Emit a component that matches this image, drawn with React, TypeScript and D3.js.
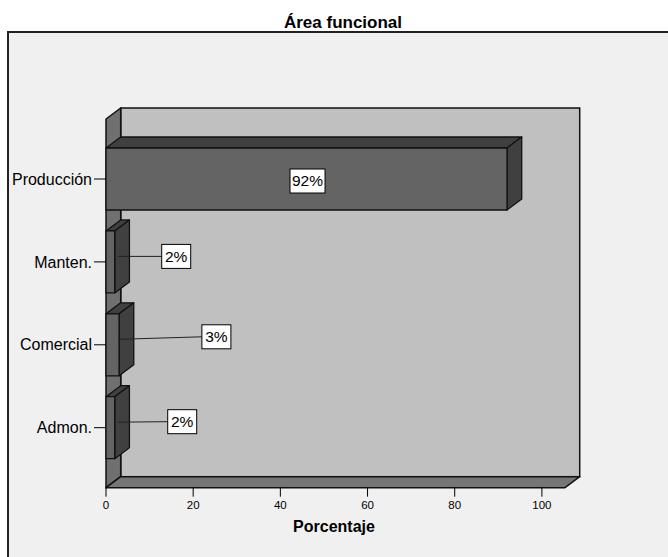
import React from "react";
import * as d3 from "d3";

// Share of staff by functional area (percent)
const categories = ["Producción", "Manten.", "Comercial", "Admon."];
const percentages = [92, 2, 3, 2];
const xTicks = [0, 20, 40, 60, 80, 100];
const xAxisMax = 105.3;

const WIDTH = 668;
const HEIGHT = 557;

// 3D depth offset of the chart box and bars
const DX = 14.7;
const DY = 11;

// Label boxes for thin bars are pushed to the right of the bar
const labelShift = [0, 44, 82, 50];
const labelTilt = [0, 0, -2.5, -0.5];

const FONT = "'Liberation Sans', Arial, sans-serif";

export default function App() {
  const x = d3.scaleLinear().domain([0, xAxisMax]).range([106, 565]);
  const y = d3
    .scaleBand<string>()
    .domain(categories)
    .range([119, 487.7])
    .paddingInner(0.252)
    .paddingOuter(0.35);

  const x0 = x(0);
  const xEnd = x(xAxisMax);
  const yTop = y.range()[0];
  const yBot = y.range()[1];

  const pts = (p: [number, number][]) => p.map((d) => d.join(",")).join(" ");

  const stroke = "#111";

  return (
    <svg
      width={WIDTH}
      height={HEIGHT}
      style={{ position: "absolute", left: 0, top: 0, background: "#fff" }}
      fontFamily={FONT}
    >
      {/* outer frame */}
      <rect x={8} y={32} width={WIDTH + 20} height={HEIGHT} fill="#f0f0f0" stroke="#222" strokeWidth={2} />
      <text x={343} y={28} textAnchor="middle" fontSize={17} fontWeight="bold" fill="#000">
        Área funcional
      </text>

      {/* back wall */}
      <rect
        x={x0 + DX}
        y={yTop - DY}
        width={xEnd - x0}
        height={yBot - yTop}
        fill="#c0c0c0"
        stroke={stroke}
        strokeWidth={1.5}
      />
      {/* left wall */}
      <polygon
        points={pts([
          [x0, yTop],
          [x0 + DX, yTop - DY],
          [x0 + DX, yBot - DY],
          [x0, yBot],
        ])}
        fill="#707070"
        stroke={stroke}
        strokeWidth={1.5}
        strokeLinejoin="round"
      />
      {/* floor */}
      <polygon
        points={pts([
          [x0, yBot],
          [x0 + DX, yBot - DY],
          [xEnd + DX, yBot - DY],
          [xEnd, yBot],
        ])}
        fill="#767676"
        stroke={stroke}
        strokeWidth={1.5}
        strokeLinejoin="round"
      />

      {/* bars */}
      {categories.map((c, i) => {
        const v = percentages[i];
        const y0 = y(c)!;
        const h = y.bandwidth();
        const x1 = x(v);
        return (
          <g key={c} stroke={stroke} strokeWidth={1.3} strokeLinejoin="round">
            <polygon
              points={pts([
                [x0, y0],
                [x0 + DX, y0 - DY],
                [x1 + DX, y0 - DY],
                [x1, y0],
              ])}
              fill="#404040"
            />
            <polygon
              points={pts([
                [x1, y0],
                [x1 + DX, y0 - DY],
                [x1 + DX, y0 + h - DY],
                [x1, y0 + h],
              ])}
              fill="#404040"
            />
            <rect x={x0} y={y0} width={x1 - x0} height={h} fill="#646464" />
          </g>
        );
      })}

      {/* y axis ticks and labels */}
      {categories.map((c) => {
        const cy = y(c)! + y.bandwidth() / 2;
        return (
          <g key={c}>
            <line x1={94} x2={x0} y1={cy} y2={cy} stroke="#000" strokeWidth={1} />
            <text x={92} y={cy} dy="0.35em" textAnchor="end" fontSize={16} fill="#000">
              {c}
            </text>
          </g>
        );
      })}

      {/* x axis ticks */}
      {xTicks.map((t) => (
        <g key={t}>
          <line x1={x(t)} x2={x(t)} y1={yBot} y2={yBot + 9} stroke="#000" strokeWidth={1} />
          <text x={x(t)} y={509} textAnchor="middle" fontSize={11.5} fill="#000">
            {t}
          </text>
        </g>
      ))}
      <text x={334} y={531.5} textAnchor="middle" fontSize={16} fontWeight="bold" fill="#000">
        Porcentaje
      </text>

      {/* value labels */}
      {categories.map((c, i) => {
        const v = percentages[i];
        const cy = y(c)! + y.bandwidth() / 2;
        const label = `${v}%`;
        const bw = 29;
        const bh = 24;
        if (labelShift[i] === 0) {
          const cx = (x0 + x(v)) / 2 + 1;
          return (
            <g key={c}>
              <rect x={cx - 17.5} y={cy - 10} width={35} height={bh} fill="#fff" stroke="#000" strokeWidth={1} />
              <text x={cx} y={cy + 2} dy="0.35em" textAnchor="middle" fontSize={15.5} fill="#000">
                {label}
              </text>
            </g>
          );
        }
        const ax = (x0 + x(v)) / 2 + DX / 2;
        const ay = cy - DY / 2;
        const bx = ax + labelShift[i];
        const by = ay + labelTilt[i];
        return (
          <g key={c}>
            <line x1={ax} y1={ay} x2={bx} y2={by} stroke="#222" strokeWidth={1} />
            <rect x={bx} y={by - bh / 2} width={bw} height={bh} fill="#fff" stroke="#000" strokeWidth={1} />
            <text x={bx + bw / 2} y={by} dy="0.35em" textAnchor="middle" fontSize={15.5} fill="#000">
              {label}
            </text>
          </g>
        );
      })}
    </svg>
  );
}
